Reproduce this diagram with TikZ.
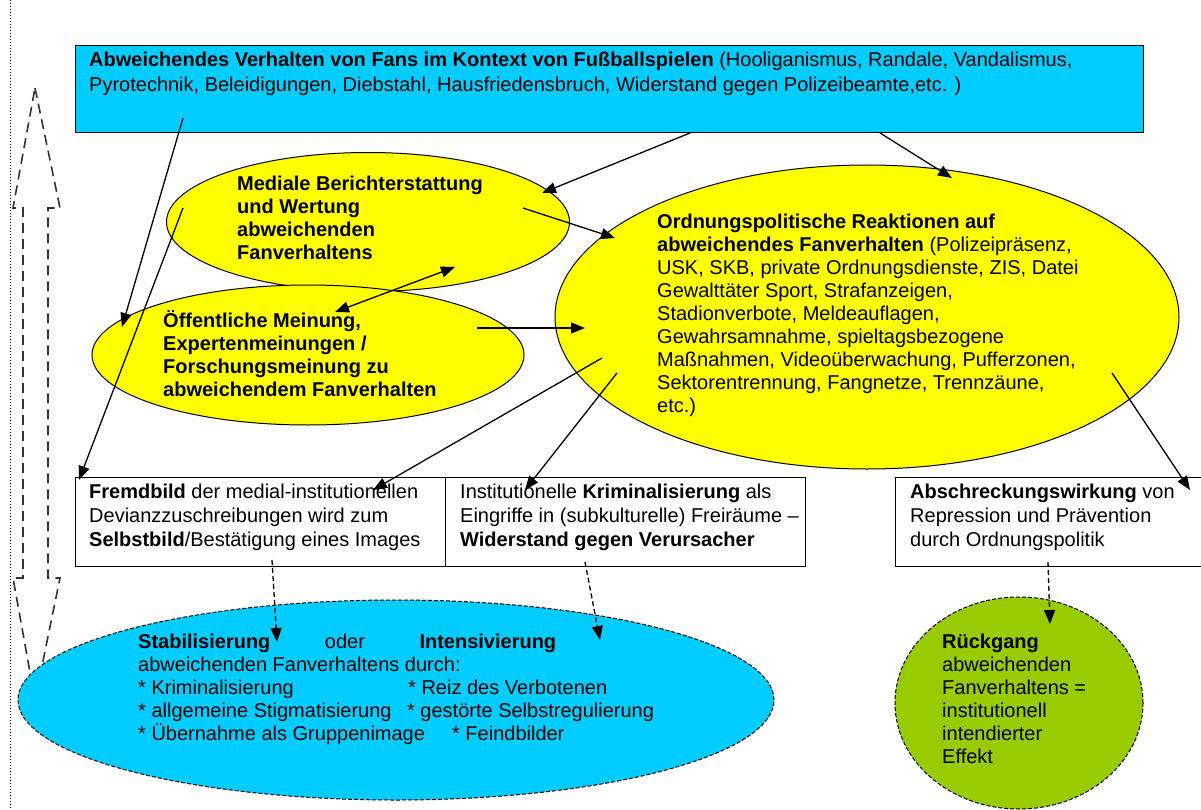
\documentclass[tikz,border=0pt]{standalone}
\usepackage{fontspec}
\setmainfont{Liberation Sans}
\usetikzlibrary{shapes.geometric,arrows.meta}
\definecolor{boxblue}{RGB}{0,204,255}
\definecolor{ellyellow}{RGB}{255,255,0}
\definecolor{ellgreen}{RGB}{153,204,0}
\begin{document}
\begin{tikzpicture}[x=1pt,y=-1pt,
  ell/.style={ellipse, draw, line width=1pt, inner sep=0pt},
  rbox/.style={rectangle, draw, line width=1pt, inner sep=0pt, anchor=north west},
  txt/.style={anchor=north west, inner sep=0pt, align=left, font=\fontsize{20pt}{23pt}\selectfont, execute at begin node=\rule{0pt}{18pt}},
  arr/.style={line width=1.3pt, -{Triangle[length=14pt,width=11pt]}},
  darr/.style={arr, dash pattern=on 5pt off 3pt},
  dblarr/.style={line width=1.6pt, draw=black!80, dash pattern=on 10pt off 6pt}
]
\useasboundingbox (0,0) rectangle (1201,810);
\clip (0,0) rectangle (1201,810);

% left dotted line
\coordinate (dtop) at (10,0);
\coordinate (dbot) at (10,810);
\draw[line width=1pt, dotted] (dtop) -- (dbot);

% left hollow double arrow (dashed outline)
\draw[dblarr] (35,88) -- (60,208) -- (48,208) -- (48,578) -- (60,578) -- (35,700)
  -- (13,578) -- (23,578) -- (23,208) -- (13,208) -- cycle;

% shapes
\node[rbox, fill=boxblue, minimum width=1068pt, minimum height=87pt] (top) at (75,45) {};
\node[ell, fill=ellyellow, minimum width=403pt, minimum height=139pt] (med) at (368,222) {};
\node[ell, fill=ellyellow, minimum width=432pt, minimum height=140pt] (oef) at (308,355) {};
\node[ell, fill=ellyellow, minimum width=624pt, minimum height=304pt] (ord) at (867,317) {};
\node[rbox, minimum width=370pt, minimum height=89pt] (frem) at (75,477) {};
\node[rbox, minimum width=360pt, minimum height=89pt] (inst) at (445,477) {};
\node[rbox, minimum width=320pt, minimum height=89pt] (absch) at (895,477) {};
\node[ell, fill=boxblue, dash pattern=on 4pt off 2pt, minimum width=756pt, minimum height=200pt] (stab) at (396,700) {};
\node[ell, fill=ellgreen, dash pattern=on 4pt off 2pt, minimum width=248pt, minimum height=212pt] (gruen) at (1019,703) {};

% texts
\node[txt, font=\fontsize{20pt}{25pt}\selectfont] (ttop) at (89,51.5)
 {\textbf{Abweichendes Verhalten von Fans im Kontext von Fußballspielen} (Hooliganismus, Randale, Vandalismus,\\
  Pyrotechnik, Beleidigungen, Diebstahl, Hausfriedensbruch, Widerstand gegen Polizeibeamte,etc. )};
\node[txt, font=\bfseries\fontsize{20pt}{23pt}\selectfont] (tmed) at (237,175.5)
 {Mediale Berichterstattung\\ und Wertung\\ abweichenden\\ Fanverhaltens};
\node[txt, font=\bfseries\fontsize{20pt}{23pt}\selectfont] (toef) at (163,310.5)
 {Öffentliche Meinung,\\ Expertenmeinungen /\\ Forschungsmeinung zu\\ abweichendem Fanverhalten};
\node[txt] (tord) at (657,213.5)
 {\textbf{Ordnungspolitische Reaktionen auf}\\
  \textbf{abweichendes Fanverhalten} (Polizeipräsenz,\\
  USK, SKB, private Ordnungsdienste, ZIS, Datei\\
  Gewalttäter Sport, Strafanzeigen,\\
  Stadionverbote, Meldeauflagen,\\
  Gewahrsamnahme, spieltagsbezogene\\
  Maßnahmen, Videoüberwachung, Pufferzonen,\\
  Sektorentrennung, Fangnetze, Trennzäune,\\
  etc.)};
\node[txt, font=\fontsize{20pt}{24pt}\selectfont] (tfrem) at (89,483.5)
 {\textbf{Fremdbild} der medial-institutionellen\\ Devianzzuschreibungen wird zum\\ \textbf{Selbstbild}/Bestätigung eines Images};
\node[txt, font=\fontsize{20pt}{24pt}\selectfont] (tinst) at (460,483.5)
 {Institutionelle \textbf{Kriminalisierung} als\\ Eingriffe in (subkulturelle) Freiräume –\\ \textbf{Widerstand gegen Verursacher}};
\node[txt, font=\fontsize{20pt}{24pt}\selectfont] (tabs) at (910,483.5)
 {\textbf{Abschreckungswirkung} von\\ Repression und Prävention\\ durch Ordnungspolitik};
\node[txt] (tstab) at (138,633.5)
 {\makebox[418pt][l]{\textbf{Stabilisierung}\hfill oder\hfill \textbf{Intensivierung}}\\
  abweichenden Fanverhaltens durch:\\
  \makebox[270pt][l]{* Kriminalisierung}* Reiz des Verbotenen\\
  \makebox[269pt][l]{* allgemeine Stigmatisierung}* gestörte Selbstregulierung\\
  \makebox[314pt][l]{* Übernahme als Gruppenimage}* Feindbilder};
\node[txt] (tgruen) at (942,633.5)
 {\textbf{Rückgang}\\ abweichenden\\ Fanverhaltens =\\ institutionell\\ intendierter\\ Effekt};

% connector end points
\coordinate (a1s) at (183,118);  \coordinate (a1e) at (122,327);
\coordinate (a2s) at (690,133);  \coordinate (a2e) at (542,193);
\coordinate (a3s) at (880,133);  \coordinate (a3e) at (952,178);
\coordinate (a4s) at (523,208);  \coordinate (a4e) at (615,238);
\coordinate (a5s) at (335,312);  \coordinate (a5e) at (455,267);
\coordinate (a6s) at (477,328);  \coordinate (a6e) at (585,328);
\coordinate (a7s) at (183,208);  \coordinate (a7e) at (79,480);
\coordinate (a8s) at (602,358);  \coordinate (a8e) at (373,490);
\coordinate (a9s) at (617,373);  \coordinate (a9e) at (525,490);
\coordinate (a10s) at (1112,373); \coordinate (a10e) at (1190,490);
\coordinate (d1s) at (272,560);  \coordinate (d1e) at (277,642);
\coordinate (d2s) at (585,562);  \coordinate (d2e) at (600,640);
\coordinate (d3s) at (1048,562); \coordinate (d3e) at (1050,624);

% connectors
\draw[arr] (a1s) -- (a1e);
\draw[arr] (a2s) -- (a2e);
\draw[arr] (a3s) -- (a3e);
\draw[arr] (a4s) -- (a4e);
\draw[line width=1.3pt, {Triangle[length=14pt,width=11pt]}-{Triangle[length=14pt,width=11pt]}] (a5s) -- (a5e);
\draw[arr] (a6s) -- (a6e);
\draw[arr] (a7s) -- (a7e);
\draw[arr] (a8s) -- (a8e);
\draw[arr] (a9s) -- (a9e);
\draw[arr] (a10s) -- (a10e);
\draw[darr] (d1s) -- (d1e);
\draw[darr] (d2s) -- (d2e);
\draw[darr] (d3s) -- (d3e);
\end{tikzpicture}
\end{document}
